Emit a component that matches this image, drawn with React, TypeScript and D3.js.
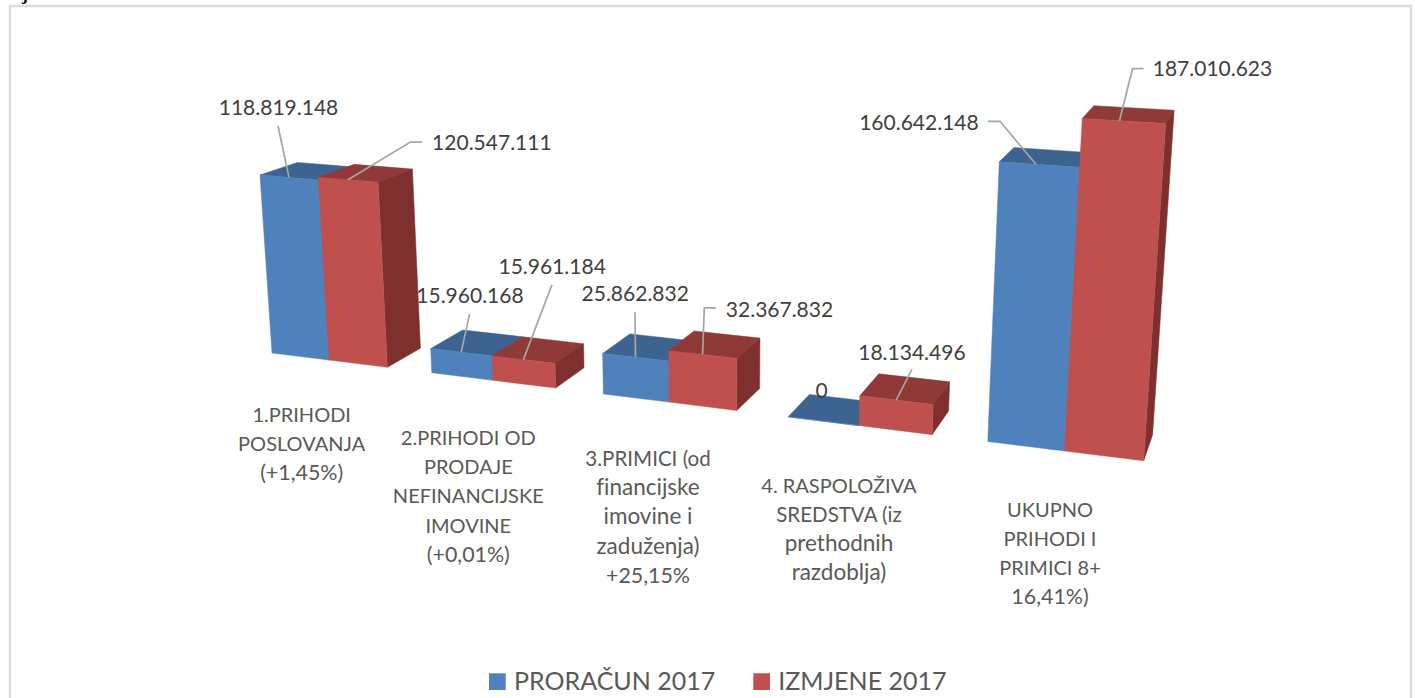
import * as d3 from "d3";
import { useEffect, useRef } from "react";

const WIDTH = 1415;
const HEIGHT = 698;

// Chart data
const categories = ["prihodi", "prodaja", "primici", "sredstva", "ukupno"];
const seriesNames = ["PRORAČUN 2017", "IZMJENE 2017"];
const proracun = [118819148, 15960168, 25862832, 0, 160642148];
const izmjene = [120547111, 15961184, 32367832, 18134496, 187010623];
const categoryLabels = [
  ["1.PRIHODI", "POSLOVANJA", "(+1,45%)"],
  ["2.PRIHODI OD", "PRODAJE", "NEFINANCIJSKE", "IMOVINE", "(+0,01%)"],
  ["3.PRIMICI (od", "financijske", "imovine i", "zaduženja)", "+25,15%"],
  ["4. RASPOLOŽIVA", "SREDSTVA (iz", "prethodnih", "razdoblja)"],
  ["UKUPNO", "PRIHODI I", "PRIMICI 8+", "16,41%)"],
];

// Colours per series: front, top, side
const FACE_COLORS = [
  { front: "#4f81bd", top: "#3d6390", side: "#34567e" },
  { front: "#c0504d", top: "#8f3a38", side: "#7d302e" },
];

// Where each category label sits: centre x and first baseline
const CATEGORY_LABEL_POS = [
  [301.7, 422],
  [468.3, 445],
  [648, 466],
  [839, 492.7],
  [1050, 516.7],
];

// Data label placement, relative to the point where the leader meets the bar.
// along: fraction of the bar width, text: label centre/baseline, path: leader points
type LabelPlace = { along: number; text: number[]; path: number[][] };
const LABEL_PLACES: LabelPlace[][] = [
  [
    { along: 0.5, text: [-10.5, -62.4], path: [[-11, -51.4]] },
    { along: 0.5, text: [8.8, -49.6], path: [[8.4, -38.3]] },
    { along: 0.5, text: [-0.3, -56.5], path: [[-0.6, -44.9]] },
    { along: 0.5, text: [-1.7, -23.5], path: [] },
    { along: 0.46, text: [-117, -34.7], path: [[-48, -43], [-36, -43]] },
  ],
  [
    { along: 0.5, text: [143.9, -29.6], path: [[74.1, -37.6], [62.4, -37.6]] },
    { along: 0.5, text: [28.8, -85.7], path: [[28.6, -74.7]] },
    { along: 0.5, text: [76.9, -37.9], path: [[13.4, -46.6], [1.7, -46.6]] },
    { along: 0.5, text: [15.7, -40.1], path: [[15.7, -30.8]] },
    { along: 0.45, text: [93, -45], path: [[24, -52], [13, -52]] },
  ],
];

// Perspective camera: origin and the three vanishing points
const ORIGIN = [272, 353];
const VANISH_X = [-4200, -200];
const VANISH_Y = [718, 6980];
const VANISH_Z = [1372, -200];
const PERSP_X = -1 / 4472;
const PERSP_Y = -1.509e-4;
const PERSP_Z = 3.385e-4;
const BAR_DEPTH = 100;

const project = (x: number, y: number, z: number): [number, number] => {
  const ax = PERSP_X * x;
  const ay = PERSP_Y * y;
  const az = PERSP_Z * z;
  const w = 1 + ax + ay + az;
  return [
    (ORIGIN[0] + ax * VANISH_X[0] + ay * VANISH_Y[0] + az * VANISH_Z[0]) / w,
    (ORIGIN[1] + ax * VANISH_X[1] + ay * VANISH_Y[1] + az * VANISH_Z[1]) / w,
  ];
};

const numberLabel = (v: number) =>
  v === 0 ? "0" : d3.format(",")(v).replace(/,/g, ".");

// Lato runs narrower than the original font in lower case and digits
const categoryFontSize = (line: string) => {
  const lower = (line.match(/[a-zčšž]/g) || []).length;
  const letters = (line.match(/[a-zčšžA-ZČŠŽ]/g) || []).length;
  if (letters === 0) return 21.4;
  return 20 + 2.5 * (lower / letters);
};

const FONT = "Lato, 'Open Sans', sans-serif";

export default function App() {
  const svgRef = useRef<SVGSVGElement>(null);

  useEffect(() => {
    if (!svgRef.current) return;
    const svg = d3.select(svgRef.current);
    svg.selectAll("*").remove();

    // Outer frame runs off the bottom of the page
    svg
      .append("rect")
      .attr("x", 10)
      .attr("y", 6)
      .attr("width", 1401)
      .attr("height", 800)
      .attr("fill", "#fff")
      .attr("stroke", "#dcdcdc")
      .attr("stroke-width", 2.5);

    // Bit of text from the page above the chart
    svg
      .append("text")
      .attr("x", 22)
      .attr("y", 0)
      .attr("font-family", "'Liberation Serif', serif")
      .attr("font-weight", "bold")
      .attr("font-size", 18)
      .attr("fill", "#111")
      .text("j");

    const x0 = d3
      .scaleBand<string>()
      .domain(categories)
      .range([0, 729.5])
      .paddingInner(0.2707);
    const x1 = d3
      .scaleBand<string>()
      .domain(seriesNames)
      .range([0, x0.bandwidth()]);
    const y = d3.scaleLinear().domain([0, 200000000]).range([0, 291.8]);

    const line = d3.line();
    const series = [proracun, izmjene];
    const bars = svg.append("g");
    const leaders = svg.append("g");
    const labels = svg.append("g");

    categories.forEach((cat, i) => {
      series.forEach((values, s) => {
        const left = x0(cat)! + x1(seriesNames[s])!;
        const right = left + x1.bandwidth();
        const h = y(values[i]);
        const colors = FACE_COLORS[s];

        const faces: [string, [number, number, number][]][] = [
          [
            colors.top,
            [
              [left, h, 0],
              [right, h, 0],
              [right, h, BAR_DEPTH],
              [left, h, BAR_DEPTH],
            ],
          ],
          [
            colors.side,
            [
              [right, 0, 0],
              [right, 0, BAR_DEPTH],
              [right, h, BAR_DEPTH],
              [right, h, 0],
            ],
          ],
          [
            colors.front,
            [
              [left, 0, 0],
              [right, 0, 0],
              [right, h, 0],
              [left, h, 0],
            ],
          ],
        ];
        faces.forEach(([fill, pts]) => {
          bars
            .append("path")
            .attr("d", line(pts.map((p) => project(p[0], p[1], p[2]))) + "Z")
            .attr("fill", fill)
            .attr("stroke", fill)
            .attr("stroke-width", 0.5);
        });
      });
    });

    // Data labels with leader lines, drawn after every bar
    categories.forEach((cat, i) => {
      series.forEach((values, s) => {
        const place = LABEL_PLACES[s][i];
        const left = x0(cat)! + x1(seriesNames[s])!;
        const [ax, ay] = project(left + x1.bandwidth() * place.along, y(values[i]), 0);

        if (place.path.length) {
          const pts: [number, number][] = place.path.map((p) => [ax + p[0], ay + p[1]]);
          pts.push([ax, ay]);
          leaders
            .append("path")
            .attr("d", line(pts))
            .attr("fill", "none")
            .attr("stroke", "#a6a6a6")
            .attr("stroke-width", 1.7);
        }

        labels
          .append("text")
          .attr("x", ax + place.text[0])
          .attr("y", ay + place.text[1])
          .attr("text-anchor", "middle")
          .attr("font-family", FONT)
          .attr("font-size", 21)
          .attr("fill", "#404040")
          .text(numberLabel(values[i]));
      });
    });

    // Category labels
    categoryLabels.forEach((lines, i) => {
      const [cx, top] = CATEGORY_LABEL_POS[i];
      const text = svg
        .append("text")
        .attr("text-anchor", "middle")
        .attr("font-family", FONT)
        .attr("fill", "#595959")
        .style("font-variant-ligatures", "none");
      lines.forEach((l, j) => {
        text
          .append("tspan")
          .attr("x", cx)
          .attr("y", top + j * 29.2)
          .attr("font-size", categoryFontSize(l))
          .text(l);
      });
    });

    // Legend
    const legend = svg.append("g");
    seriesNames.forEach((name, s) => {
      const lx = [489, 753.3][s];
      legend
        .append("rect")
        .attr("x", lx)
        .attr("y", 673.3)
        .attr("width", 16.7)
        .attr("height", 16.7)
        .attr("fill", FACE_COLORS[s].front);
      legend
        .append("text")
        .attr("x", lx + 25)
        .attr("y", 690)
        .attr("font-family", FONT)
        .attr("font-size", 25)
        .attr("fill", "#595959")
        .text(name);
    });
  }, []);

  return (
    <svg
      ref={svgRef}
      width={WIDTH}
      height={HEIGHT}
      style={{ position: "absolute", left: 0, top: 0, background: "#fff" }}
    />
  );
}
